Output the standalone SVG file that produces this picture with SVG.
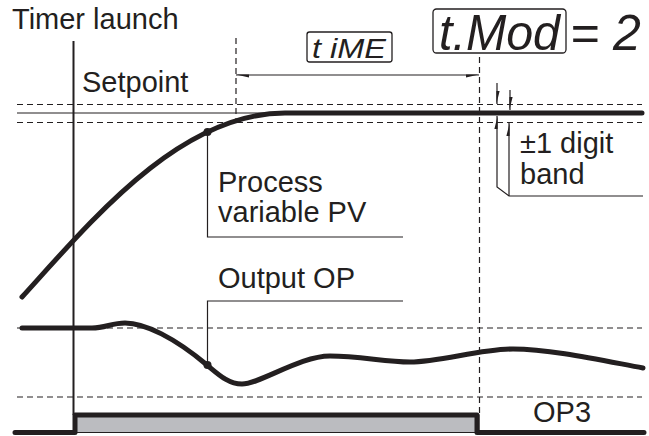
<svg xmlns="http://www.w3.org/2000/svg" width="649" height="436" viewBox="0 0 649 436">
<style>
.lbl{font-family:"Liberation Sans",Arial,sans-serif;font-size:29px;fill:#231f20}
.seg{font-family:"Liberation Sans",Arial,sans-serif;font-style:italic;fill:#231f20}
.thin{fill:none;stroke:#231f20;stroke-width:1.2}
.dash{fill:none;stroke:#231f20;stroke-width:1.2;stroke-dasharray:6 4}
.thick{fill:none;stroke:#231f20;stroke-width:5;stroke-linecap:round;stroke-linejoin:round}
.head{fill:#231f20}
.box{fill:#fff;stroke:#231f20;stroke-width:1.3}
</style>
<rect width="649" height="436" fill="#fff"/>

<g id="guides">
  <line class="dash" x1="17" y1="104.5" x2="642" y2="104.5"/>
  <line class="dash" x1="17" y1="122.5" x2="642" y2="122.5"/>
  <line class="dash" x1="17" y1="328" x2="642" y2="328"/>
  <line class="dash" x1="17" y1="397" x2="642" y2="397"/>
  <line class="dash" x1="236" y1="38" x2="236" y2="122"/>
  <line class="dash" x1="479.5" y1="57" x2="479.5" y2="413"/>
  <line class="thin" x1="17" y1="113" x2="290" y2="113"/>
  <line x1="73.5" y1="41" x2="73.5" y2="415" stroke="#231f20" stroke-width="2"/>
</g>

<g id="op3-signal">
  <rect x="75" y="415" width="404" height="17.5" fill="#bbbcc0" stroke="#231f20" stroke-width="1"/>
  <polyline class="thick" points="15,432.5 75,432.5 75,415 477,415 477,432.5 644,432.5" stroke-linecap="round" stroke-linejoin="miter"/>
</g>

<g id="pv-curve">
  <path class="thick" d="M22,297 C92,220 180,113 285,113 L642,113"/>
  <circle cx="207.5" cy="132" r="4" class="head"/>
</g>

<g id="op-curve">
  <path class="thick" d="M22,328 L92,328 C105,328 112,323 125,323 C145,323 175,338 207,365 C218,374 228,384 242,384 C260,384 300,356 330,356 C360,356 385,362 410,362 C440,362 480,349 513,349 C550,349 600,360 643,368"/>
  <circle cx="207.5" cy="365" r="4" class="head"/>
</g>

<g id="connectors">
  <polyline class="thin" points="207.5,132 207.5,237 403,237"/>
  <polyline class="thin" points="207.5,365 207.5,301 403,301"/>
  <line class="thin" x1="236" y1="75" x2="479" y2="75"/>
  <polygon class="head" points="236,74.4 249,74.4 249,77.6"/>
  <polygon class="head" points="479,74.4 466,74.4 466,77.6"/>
  <line class="thin" x1="497" y1="83" x2="497" y2="104"/>
  <polygon class="head" points="496.4,104 496.4,91 499.6,91"/>
  <line class="thin" x1="510" y1="90" x2="510" y2="110"/>
  <polygon class="head" points="509.4,110 509.4,97 512.6,97"/>
  <polyline class="thin" points="497,116 497,187 509,196 643,196"/>
  <polygon class="head" points="497.6,116 497.6,129 494.4,129"/>
  <line class="thin" x1="509" y1="123" x2="509" y2="196"/>
  <polygon class="head" points="509.6,123 509.6,136 506.4,136"/>
</g>

<g id="timer-launch"><text class="lbl" x="12" y="29">Timer launch</text></g>
<g id="setpoint"><text class="lbl" x="82" y="92">Setpoint</text></g>
<g id="pv-label"><text class="lbl" x="218" y="192">Process</text><text class="lbl" x="218" y="222">variable PV</text></g>
<g id="op-label"><text class="lbl" x="218" y="288">Output OP</text></g>
<g id="band-label"><text class="lbl" x="520" y="153" font-size="28">±1 digit</text><text class="lbl" x="520" y="184" font-size="28">band</text></g>
<g id="op3-label"><text class="lbl" x="533" y="422">OP3</text></g>

<g id="time-display">
  <rect class="box" x="307" y="32" width="85" height="30" rx="2.5"/>
  <text class="seg" x="312" y="58" font-size="28" textLength="74" lengthAdjust="spacingAndGlyphs">t iME</text>
</g>
<g id="tmod-display">
  <rect class="box" x="433" y="9" width="133" height="44" rx="3.5"/>
  <text class="seg" x="439" y="50" font-size="50" textLength="121" lengthAdjust="spacingAndGlyphs">t.Mod</text>
  <text class="seg" x="570" y="50" font-size="50">= 2</text>
</g>
</svg>
